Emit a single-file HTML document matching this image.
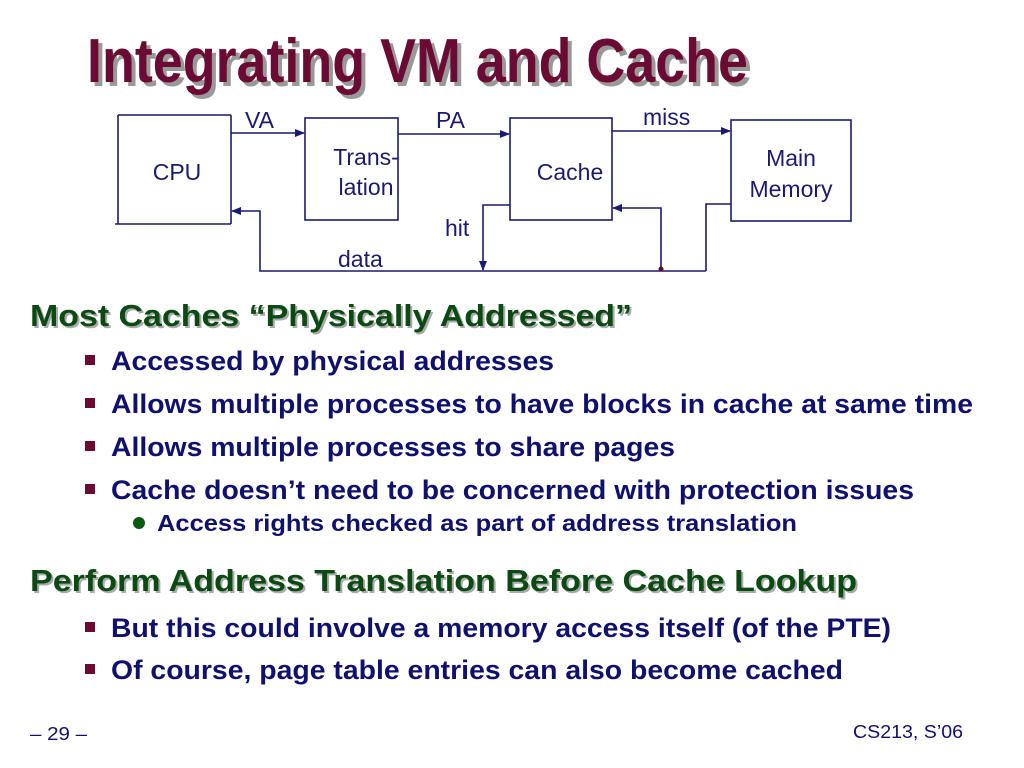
<!DOCTYPE html>
<html><head><style>html,body{margin:0;padding:0;background:#fff}svg{display:block}</style></head>
<body>
<svg width="1024" height="768" xmlns="http://www.w3.org/2000/svg" font-family="Liberation Sans, Arial, sans-serif">
<defs>
<marker id="ah" markerWidth="10" markerHeight="8" refX="9" refY="4" orient="auto" markerUnits="userSpaceOnUse">
<path d="M0,0 L10,4 L0,8 Z" fill="#1a1a6e"/></marker>
</defs>
<text x="91" y="86" font-size="62" font-weight="bold" fill="#999" textLength="661" lengthAdjust="spacingAndGlyphs">Integrating VM and Cache</text>
<text x="87" y="82" font-size="62" font-weight="bold" fill="#6b0a33" textLength="661" lengthAdjust="spacingAndGlyphs">Integrating VM and Cache</text>
<g stroke="#1a1a6e" stroke-width="1.6" fill="none">
<line x1="118" y1="115" x2="231" y2="115"/>
<line x1="118" y1="115" x2="118" y2="224"/>
<line x1="115" y1="224" x2="231" y2="224"/>
<line x1="231" y1="115" x2="231" y2="224"/>
<rect x="305" y="118" width="93" height="102"/>
<rect x="510" y="118" width="102" height="102"/>
<rect x="731" y="120" width="120" height="101"/>
<line x1="231" y1="133" x2="304" y2="133" marker-end="url(#ah)"/>
<line x1="398" y1="134" x2="509" y2="134" marker-end="url(#ah)"/>
<line x1="612" y1="131" x2="730" y2="131" marker-end="url(#ah)"/>
<polyline points="510,205 483,205 483,270" marker-end="url(#ah)"/>
<polyline points="706,271 260,271 260,211 232,211" marker-end="url(#ah)"/>
<polyline points="661,271 661,208 613,208" marker-end="url(#ah)"/>
<polyline points="731,204 706,204 706,271"/>
</g>
<circle cx="661" cy="269" r="2.5" fill="#5a0a2a"/>
<g font-size="23" fill="#1a1a6e">
<text x="245" y="128">VA</text>
<text x="436" y="128">PA</text>
<text x="643" y="125">miss</text>
<text x="445" y="236">hit</text>
<text x="338" y="267">data</text>
<text x="177" y="180" text-anchor="middle">CPU</text>
<text x="366" y="165" text-anchor="middle">Trans-</text>
<text x="366" y="195" text-anchor="middle">lation</text>
<text x="570" y="180" text-anchor="middle">Cache</text>
<text x="791" y="166" text-anchor="middle">Main</text>
<text x="791" y="197" text-anchor="middle">Memory</text>
</g>
<g font-size="31" font-weight="bold">
<text x="32" y="328" fill="#aaa" textLength="602" lengthAdjust="spacingAndGlyphs">Most Caches “Physically Addressed”</text>
<text x="30" y="326" fill="#0b4a12" textLength="602" lengthAdjust="spacingAndGlyphs">Most Caches “Physically Addressed”</text>
<text x="32" y="593" fill="#aaa" textLength="827" lengthAdjust="spacingAndGlyphs">Perform Address Translation Before Cache Lookup</text>
<text x="30" y="591" fill="#0b4a12" textLength="827" lengthAdjust="spacingAndGlyphs">Perform Address Translation Before Cache Lookup</text>
</g>
<g fill="#6b0a33">
<rect x="85" y="355" width="10" height="10"/>
<rect x="85" y="398" width="10" height="10"/>
<rect x="85" y="441" width="10" height="10"/>
<rect x="85" y="484" width="10" height="10"/>
<rect x="85" y="622" width="10" height="10"/>
<rect x="85" y="664" width="10" height="10"/>
</g>
<circle cx="139" cy="523" r="6" fill="#0b5a12"/>
<g font-size="26.5" font-weight="bold" fill="#10106e">
<text x="111" y="370" textLength="443" lengthAdjust="spacingAndGlyphs">Accessed by physical addresses</text>
<text x="111" y="413" textLength="862" lengthAdjust="spacingAndGlyphs">Allows multiple processes to have blocks in cache at same time</text>
<text x="111" y="456" textLength="564" lengthAdjust="spacingAndGlyphs">Allows multiple processes to share pages</text>
<text x="111" y="499" textLength="803" lengthAdjust="spacingAndGlyphs">Cache doesn’t need to be concerned with protection issues</text>
<text x="111" y="637" textLength="780" lengthAdjust="spacingAndGlyphs">But this could involve a memory access itself (of the PTE)</text>
<text x="111" y="679" textLength="732" lengthAdjust="spacingAndGlyphs">Of course, page table entries can also become cached</text>
</g>
<text x="157" y="531" font-size="23" font-weight="bold" fill="#10106e" textLength="640" lengthAdjust="spacingAndGlyphs">Access rights checked as part of address translation</text>
<g font-size="18" fill="#10106e">
<text x="30" y="740" textLength="57" lengthAdjust="spacingAndGlyphs">– 29 –</text>
<text x="853" y="738" textLength="110" lengthAdjust="spacingAndGlyphs">CS213, S’06</text>
</g>
</svg>
</body></html>
